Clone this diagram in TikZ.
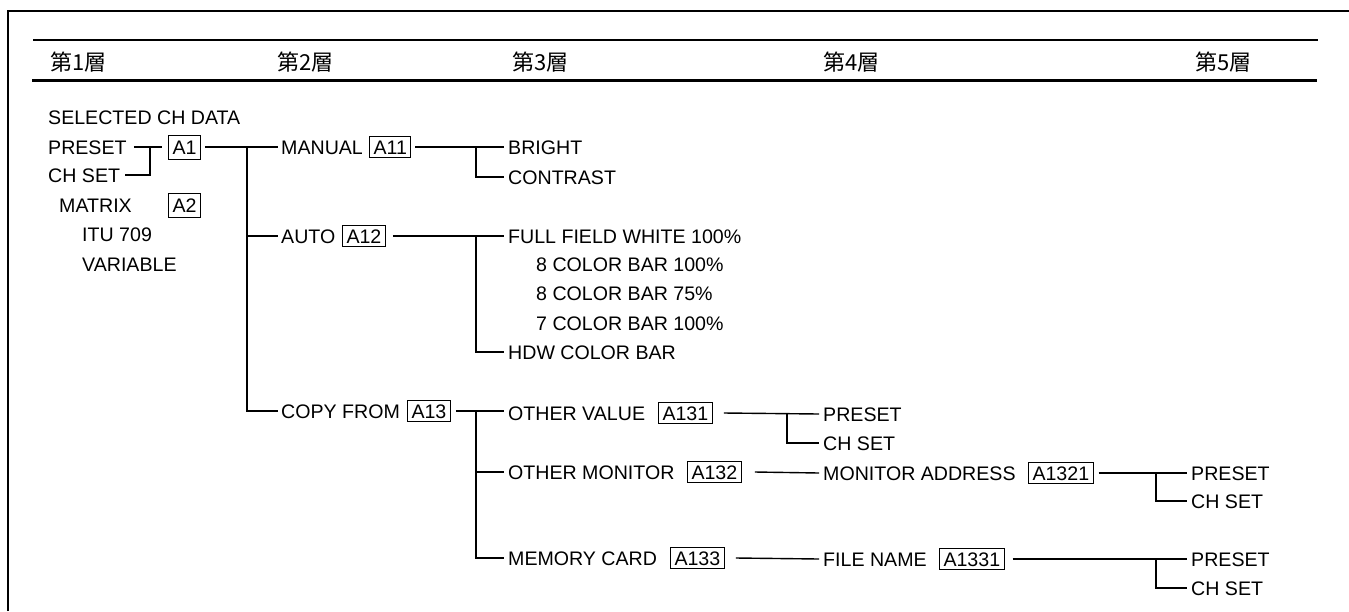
\documentclass[tikz,border=0pt]{standalone}
\usepackage{fontspec}
\setmainfont{Liberation Sans}
\newfontfamily\cjk{Noto Sans CJK JP}
\begin{document}
\begin{tikzpicture}[x=1pt,y=-1pt,
  txt/.style={anchor=west, inner sep=0pt, font=\fontsize{19.6}{24}\selectfont, text height=14pt, text depth=0pt},
  hdr/.style={anchor=base west, inner sep=0pt, font=\cjk\fontsize{22}{26}\selectfont},
  tag/.style={draw, line width=1pt, anchor=west, inner xsep=4pt, inner ysep=0pt, minimum height=21pt, font=\fontsize{19.6}{24}\selectfont, text height=14pt, text depth=0pt},
  tagtall/.style={tag, minimum height=24pt},
  tree/.style={line width=1.4pt},
  rule/.style={line width=1.3pt},
  thickrule/.style={line width=3pt}
]
\useasboundingbox (0,0) rectangle (1349,611);
% frame
\draw[rule] (8,611) -- (8,11) -- (1349,11);
% header
\draw[rule] (33,40) -- (1318,40);
\draw[thickrule] (32,80) -- (1317,80);
\node[hdr] (h1) at (50,70) {第1層};
\node[hdr] (h2) at (277,70) {第2層};
\node[hdr] (h3) at (512,70) {第3層};
\node[hdr] (h4) at (823,70) {第4層};
\node[hdr] (h5) at (1195,70) {第5層};
% level 1
\node[txt] (sel) at (48,117) {SELECTED CH DATA};
\node[txt] (p1) at (48,147) {PRESET};
\node[txt] (c1) at (48,175) {CH SET};
\node[tagtall] (a1) at (168,147) {A1};
\node[txt] (mat) at (59,205) {MATRIX};
\node[tagtall] (a2) at (168,205) {A2};
\node[txt] (itu) at (82,234) {ITU 709};
\node[txt] (var) at (82,264) {VARIABLE};
\coordinate (j0) at (150,147);
\draw[tree] ([xshift=7pt]p1.east) -- ([xshift=-6pt]a1.west);
\draw[tree] ([xshift=5pt]c1.east) -| (j0);
% level 2
\node[txt] (man) at (281,147) {MANUAL};
\node[tag] (a11) at (369,147) {A11};
\node[txt] (auto) at (281,236) {AUTO};
\node[tag] (a12) at (342,236) {A12};
\node[txt] (copy) at (281,411) {COPY FROM};
\node[tag] (a13) at (407,411) {A13};
\coordinate (j1) at (247,147);
\draw[tree] ([xshift=4pt]a1.east) -- ([xshift=-3pt]man.west);
\draw[tree] (j1) |- ([xshift=-3pt]copy.west);
\draw[tree] (j1 |- auto.west) -- ([xshift=-3pt]auto.west);
% level 3 : manual
\node[txt] (bright) at (508,147) {BRIGHT};
\node[txt] (contrast) at (508,177) {CONTRAST};
\coordinate (j2) at (476,147);
\draw[tree] ([xshift=4pt]a11.east) -- ([xshift=-4pt]bright.west);
\draw[tree] (j2) |- ([xshift=-4pt]contrast.west);
% level 3 : auto
\node[txt] (ffw) at (508,236) {FULL FIELD WHITE 100\%};
\node[txt] (cb1) at (536,264) {8 COLOR BAR 100\%};
\node[txt] (cb2) at (536,293) {8 COLOR BAR 75\%};
\node[txt] (cb3) at (536,323) {7 COLOR BAR 100\%};
\node[txt] (hdw) at (508,352) {HDW COLOR BAR};
\coordinate (j3) at (476,236);
\draw[tree] ([xshift=7pt]a12.east) -- ([xshift=-4pt]ffw.west);
\draw[tree] (j3) |- ([xshift=-4pt]hdw.west);
% level 3 : copy from
\node[txt] (ov) at (508,413) {OTHER VALUE};
\node[tag] (a131) at (658,413) {A131};
\node[txt] (om) at (508,472) {OTHER MONITOR};
\node[tag] (a132) at (687,472) {A132};
\node[txt] (mc) at (508,558) {MEMORY CARD};
\node[tag] (a133) at (670,558) {A133};
\coordinate (j4) at (476,411);
\draw[tree] ([xshift=5pt]a13.east) -- ([xshift=-4pt]ov.west |- a13.east);
\draw[tree] (j4) |- ([xshift=-4pt]mc.west);
\draw[tree] (j4 |- om.west) -- ([xshift=-4pt]om.west);
% level 4 : other value
\node[txt] (pv) at (823,414) {PRESET};
\node[txt] (cv) at (823,443) {CH SET};
\coordinate (j5) at (787,414);
\draw[tree] ([xshift=11pt]a131.east) -- ([xshift=-4pt]pv.west);
\draw[tree] (j5) |- ([xshift=-4pt]cv.west);
% level 4 : other monitor
\node[txt] (ma) at (823,473) {MONITOR ADDRESS};
\node[tag] (a1321) at (1028,473) {A1321};
\draw[tree] ([xshift=13pt]a132.east) -- ([xshift=-4pt]ma.west);
% level 5
\node[txt] (pm) at (1191,473) {PRESET};
\node[txt] (cm) at (1191,501) {CH SET};
\coordinate (j6) at (1156,473);
\draw[tree] ([xshift=5pt]a1321.east) -- ([xshift=-4pt]pm.west);
\draw[tree] (j6) |- ([xshift=-4pt]cm.west);
% level 4 : memory card
\node[txt] (fn) at (823,559) {FILE NAME};
\node[tag] (a1331) at (939,559) {A1331};
\draw[tree] ([xshift=11pt]a133.east) -- ([xshift=-4pt]fn.west);
\node[txt] (pf) at (1191,559) {PRESET};
\node[txt] (cf) at (1191,588) {CH SET};
\coordinate (j7) at (1156,559);
\draw[tree] ([xshift=8pt]a1331.east) -- ([xshift=-4pt]pf.west);
\draw[tree] (j7) |- ([xshift=-4pt]cf.west);
\end{tikzpicture}
\end{document}
